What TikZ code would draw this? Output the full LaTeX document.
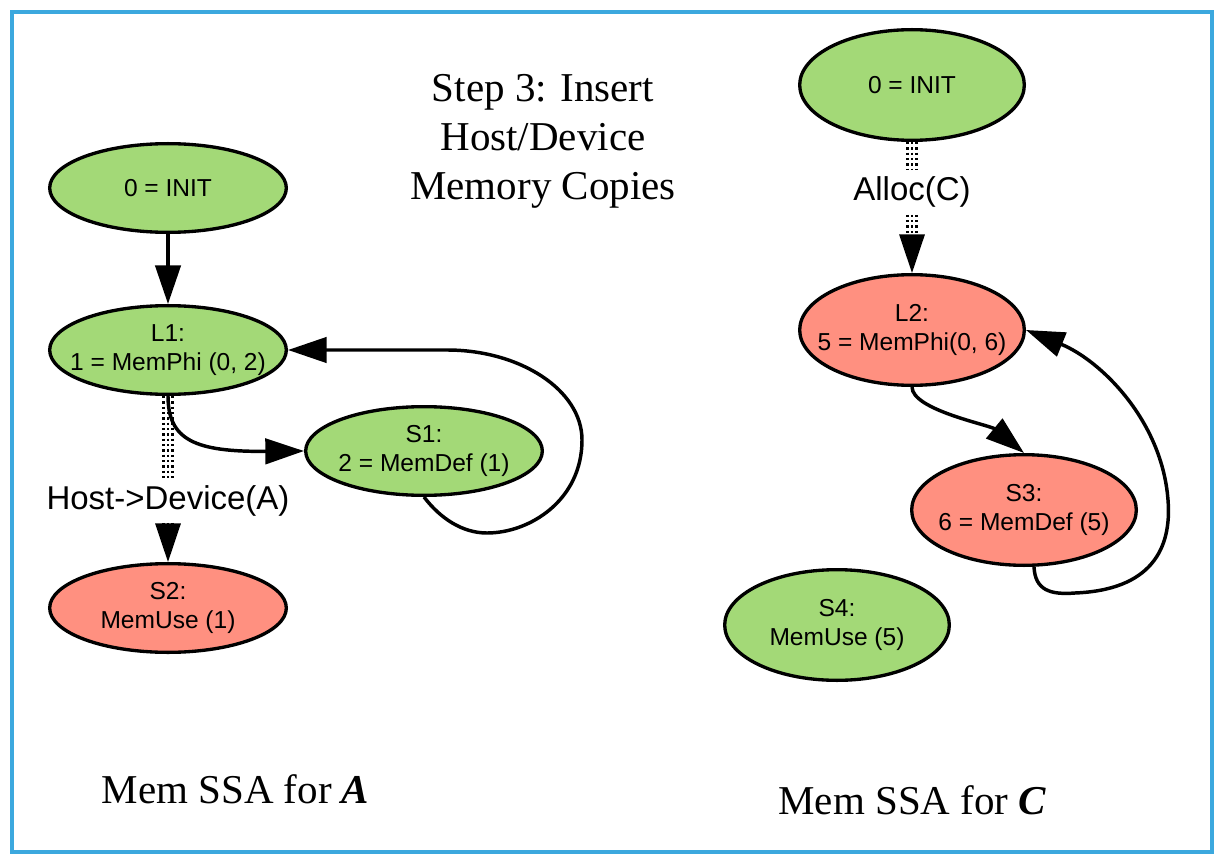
\documentclass[tikz,border=0pt]{standalone}
\usepackage{fontspec}
\setmainfont{Liberation Serif}
\newfontfamily\nodefont{Liberation Sans}
\usetikzlibrary{shapes.geometric,arrows.meta}
\definecolor{nodegreen}{RGB}{163,217,119}
\definecolor{nodered}{RGB}{255,144,128}
\definecolor{frameblue}{RGB}{60,168,222}
\begin{document}
\begin{tikzpicture}[x=0.75pt,y=-0.75pt,
  memnode/.style={ellipse, draw=black, line width=2.5pt, align=center,
    font=\nodefont\fontsize{18.4}{21.8}\selectfont, inner xsep=-25pt, inner ysep=0pt},
  lnode/.style={memnode, minimum width=177.5pt, minimum height=66.5pt},
  rnode/.style={memnode, minimum width=168.5pt, minimum height=83pt},
  green/.style={fill=nodegreen},
  red/.style={fill=nodered},
  tipstyle/.style={-{Triangle[length=29pt,width=19pt]}},
  edgeline/.style={line width=2.6pt, tipstyle},
  dotline/.style={line width=1.7pt, dash pattern=on 1.7pt off 2.3pt},
  elabel/.style={font=\nodefont\fontsize{24.75}{29}\selectfont, inner xsep=2pt, inner ysep=5pt, anchor=base},
  bigtext/.style={font=\fontsize{30.75}{36.75}\selectfont, align=center}
]
\useasboundingbox (0,0) rectangle (1223,866);
\draw[frameblue, line width=3pt] (12,12) rectangle (1211.5,851.5);

% title and captions
\node[bigtext] (title) at (543,141.5) {Step 3: Insert\\Host/Device\\Memory Copies};
\node[bigtext, anchor=base] (capA) at (235.5,803) {Mem SSA for \textbf{\textit{A}}};
\node[bigtext, anchor=base] (capC) at (912.5,814) {Mem SSA for \textbf{\textit{C}}};

% left graph
\node[lnode, green] (initA) at (168,188) {0 = INIT};
\node[lnode, green] (l1) at (168,350) {L1:\\1 = MemPhi (0, 2)};
\node[lnode, green] (s1) at (424,451) {S1:\\2 = MemDef (1)};
\node[lnode, red] (s2) at (168,608) {S2:\\MemUse (1)};
\node[elabel] (hd) at (168,509) {Host->Device(A)};

\draw[edgeline] (initA.south) -- (l1.north);
\draw[edgeline] (l1.south) .. controls (168,440) and (195,452) .. (s1.west);
\draw[edgeline] (s1.south) .. controls (440,518) and (462,533) .. (487,533)
  .. controls (530,533) and (582,500) .. (582,440)
  .. controls (582,390) and (520,350) .. (447,350) -- (l1.east);
\foreach \dx in {-3.4pt,0pt,3.4pt}
  \draw[dotline] ([xshift=\dx]l1.south) -- ([xshift=\dx]hd.north);
\foreach \dx in {-3.4pt,3.4pt}
  \draw[dotline] ([xshift=\dx]hd.south) -- ([xshift=\dx,yshift=18pt]s2.north);
\draw[dotline, tipstyle] (hd.south) -- (s2.north);

% right graph
\node[rnode, green] (initC) at (912,85) {0 = INIT};
\node[rnode, red] (l2) at (912,330) {L2:\\5 = MemPhi(0, 6)};
\node[rnode, red] (s3) at (1024,510) {S3:\\6 = MemDef (5)};
\node[rnode, green] (s4) at (837,625) {S4:\\MemUse (5)};
\node[elabel] (al) at (912,201) {Alloc(C)};

\foreach \dx in {-3.4pt,0pt,3.4pt}
  \draw[dotline] ([xshift=\dx]initC.south) -- ([xshift=\dx]al.north);
\foreach \dx in {-3.4pt,3.4pt}
  \draw[dotline] ([xshift=\dx]al.south) -- ([xshift=\dx,yshift=18pt]l2.north);
\draw[dotline, tipstyle] (al.south) -- (l2.north);

\draw[edgeline] (l2.south) .. controls (912,410) and (990,425) .. (s3.north);
\draw[edgeline] (s3.-80) .. controls (1035,590) and (1050,595) .. (1075,593)
  .. controls (1150,590) and (1172,550) .. (1168,500)
  .. controls (1162,420) and (1100,360) .. (l2.east);
\end{tikzpicture}
\end{document}
